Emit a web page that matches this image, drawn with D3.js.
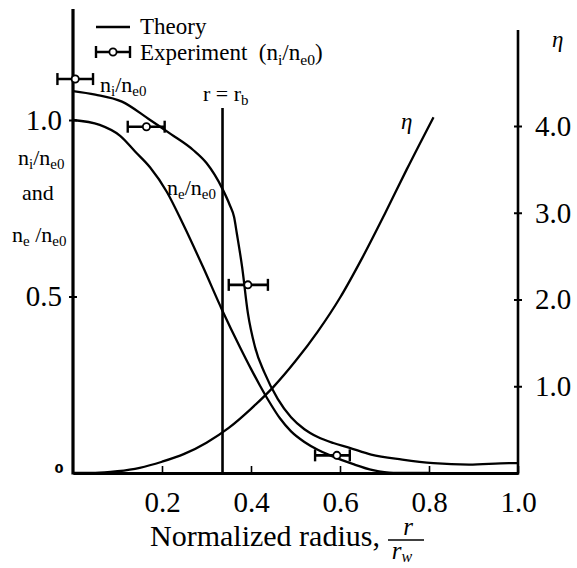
<!DOCTYPE html>
<html>
<head>
<meta charset="utf-8">
<script src="https://cdn.jsdelivr.net/npm/d3@7"></script>
<style>
  html, body { margin: 0; padding: 0; background: #fff; }
  svg { display: block; }
  text { font-family: "Liberation Serif", "Times New Roman", serif; fill: #000; }
</style>
</head>
<body>
<svg id="chart" width="577" height="568"></svg>
<script>
// ---------- data ----------
const xTicks = [0.2, 0.4, 0.6, 0.8, 1.0];
const leftTicks = [0.5, 1.0];
const rightTicks = [1, 2, 3, 4];

// n_i / n_e0 theory curve
const niX = [0, 0.05, 0.11, 0.17, 0.22, 0.27, 0.30, 0.335, 0.352, 0.362, 0.368, 0.380, 0.393, 0.409, 0.43, 0.46, 0.49, 0.52, 0.55, 0.585, 0.62, 0.67, 0.74, 0.81, 0.89, 0.98, 1.0];
const niY = [1.082, 1.072, 1.052, 1.003, 0.960, 0.915, 0.878, 0.807, 0.760, 0.725, 0.680, 0.584, 0.453, 0.357, 0.285, 0.210, 0.158, 0.124, 0.102, 0.085, 0.072, 0.052, 0.038, 0.028, 0.024, 0.028, 0.028];

// n_e / n_e0 theory curve
const neX = [0, 0.06, 0.106, 0.14, 0.173, 0.211, 0.247, 0.292, 0.335, 0.375, 0.40, 0.42, 0.44, 0.465, 0.49, 0.52, 0.55, 0.578, 0.63, 0.674, 0.72, 0.8];
const neY = [1.0, 0.986, 0.955, 0.910, 0.866, 0.796, 0.706, 0.584, 0.462, 0.357, 0.295, 0.248, 0.204, 0.155, 0.118, 0.088, 0.066, 0.050, 0.025, 0.008, 0.0, 0.0];

// eta curve (right axis)
const etaX = [0, 0.05, 0.10, 0.15, 0.20, 0.25, 0.30, 0.35, 0.40, 0.45, 0.50, 0.55, 0.60, 0.65, 0.70, 0.75, 0.81];
const etaY = [0, 0.0, 0.02, 0.06, 0.13, 0.22, 0.35, 0.52, 0.74, 0.99, 1.29, 1.63, 2.02, 2.48, 2.98, 3.50, 4.10];

// experiment (n_i/n_e0) with horizontal error bars
const expX = [0.005, 0.165, 0.393, 0.593];
const expY = [1.116, 0.981, 0.533, 0.05];
const expErrLo = [0.040, 0.042, 0.043, 0.049];
const expErrHi = [0.040, 0.041, 0.045, 0.029];

const rBeam = 0.336;

// ---------- drawing ----------
const svg = d3.select("#chart");
const SERIF = "'Liberation Serif', 'Times New Roman', serif";
const x = d3.scaleLinear().domain([0, 1]).range([73, 518]);
const yL = d3.scaleLinear().domain([0, 1]).range([473, 120]);
const yR = d3.scaleLinear().domain([0, 4]).range([473, 126]);

// bottom axis
const gB = svg.append("g").attr("transform", `translate(0,${yL(0)})`)
  .call(d3.axisBottom(x).tickValues(xTicks).tickFormat(d3.format(".1f"))
        .tickSize(-7).tickSizeOuter(0).tickPadding(18));
gB.attr("font-family", SERIF);
gB.select(".domain").attr("stroke", "#000").attr("stroke-width", 3);
gB.selectAll(".tick line").attr("stroke-width", 1.6);
gB.selectAll(".tick text").attr("font-family", SERIF).style("font-size", "29px");

// left axis
const gL = svg.append("g").attr("transform", `translate(${x(0)},0)`)
  .call(d3.axisLeft(yL).tickValues(leftTicks).tickFormat(d3.format(".1f"))
        .tickSize(4).tickSizeOuter(0).tickPadding(7));
gL.attr("font-family", SERIF);
gL.select(".domain").remove();
gL.selectAll(".tick line").attr("x1", -4).attr("x2", 4).attr("stroke-width", 2);
gL.selectAll(".tick text").attr("font-family", SERIF).style("font-size", "29px");
svg.append("line").attr("x1", x(0)).attr("x2", x(0)).attr("y1", 9).attr("y2", yL(0) + 1.5)
  .attr("stroke", "#000").attr("stroke-width", 3.2);

// right axis
const gR = svg.append("g").attr("transform", `translate(${x(1)},0)`)
  .call(d3.axisRight(yR).tickValues(rightTicks).tickFormat(d3.format(".1f"))
        .tickSize(4).tickSizeOuter(0).tickPadding(13));
gR.attr("font-family", SERIF);
gR.select(".domain").remove();
gR.selectAll(".tick line").attr("x1", -4).attr("x2", 4).attr("stroke-width", 2);
gR.selectAll(".tick text").attr("font-family", SERIF).style("font-size", "29px");
svg.append("line").attr("x1", x(1)).attr("x2", x(1)).attr("y1", 30).attr("y2", yL(0) + 1.5)
  .attr("stroke", "#000").attr("stroke-width", 2.6);

// small "0" at origin
svg.append("text").attr("x", 59).attr("y", 473).attr("text-anchor", "middle")
  .style("font-family", "DejaVu Sans, sans-serif").style("font-size", "13px").style("font-weight", "bold").text("0");

// curves
const lineL = d3.line().x(d => x(d[0])).y(d => yL(d[1])).curve(d3.curveMonotoneX);
const lineR = d3.line().x(d => x(d[0])).y(d => yR(d[1])).curve(d3.curveMonotoneX);
svg.append("path").datum(niX.map((v, i) => [v, niY[i]])).attr("d", lineL)
  .attr("fill", "none").attr("stroke", "#000").attr("stroke-width", 2.3);
svg.append("path").datum(neX.map((v, i) => [v, neY[i]])).attr("d", lineL)
  .attr("fill", "none").attr("stroke", "#000").attr("stroke-width", 2.3);
svg.append("path").datum(etaX.map((v, i) => [v, etaY[i]])).attr("d", lineR)
  .attr("fill", "none").attr("stroke", "#000").attr("stroke-width", 2.3);

// r = r_b line
svg.append("line").attr("x1", x(rBeam)).attr("x2", x(rBeam)).attr("y1", 108).attr("y2", yL(0))
  .attr("stroke", "#000").attr("stroke-width", 2.6);

// experiment error bars
function errBar(g, cx, cy, xl, xr) {
  g.append("line").attr("x1", xl).attr("x2", xr).attr("y1", cy).attr("y2", cy).attr("stroke", "#000").attr("stroke-width", 2.6);
  g.append("line").attr("x1", xl).attr("x2", xl).attr("y1", cy - 6).attr("y2", cy + 6).attr("stroke", "#000").attr("stroke-width", 2.4);
  g.append("line").attr("x1", xr).attr("x2", xr).attr("y1", cy - 6).attr("y2", cy + 6).attr("stroke", "#000").attr("stroke-width", 2.4);
  g.append("circle").attr("cx", cx).attr("cy", cy).attr("r", 3.6).attr("fill", "#fff").attr("stroke", "#000").attr("stroke-width", 1.8);
}
const gE = svg.append("g");
expX.forEach((v, i) => errBar(gE, x(v), yL(expY[i]), x(v - expErrLo[i]), x(v + expErrHi[i])));

// legend
svg.append("line").attr("x1", 96).attr("x2", 130).attr("y1", 27).attr("y2", 27).attr("stroke", "#000").attr("stroke-width", 2.6);
svg.append("text").attr("x", 140).attr("y", 34).style("font-size", "23px").text("Theory");
errBar(svg.append("g"), 113, 52, 96, 130);

function fracLabel(x0, y0, size, parts, anchor) {
  const t = svg.append("text").attr("x", x0).attr("y", y0).style("font-size", size + "px");
  if (anchor) t.attr("text-anchor", anchor);
  parts.forEach(p => {
    const ts = t.append("tspan").text(p.t);
    if (p.sub) ts.attr("dy", size * 0.2).style("font-size", (size * 0.68) + "px");
    else if (p.after) ts.attr("dy", -size * 0.2);
  });
  return t;
}
fracLabel(140, 60, 23, [{t: "Experiment\u00a0 (n"}, {t: "i", sub: true}, {t: "/n", after: true}, {t: "e0", sub: true}, {t: ")", after: true}]);

// in-plot labels
fracLabel(100, 92, 22, [{t: "n"}, {t: "i", sub: true}, {t: "/n", after: true}, {t: "e0", sub: true}]);
fracLabel(167, 195, 22, [{t: "n"}, {t: "e", sub: true}, {t: "/n", after: true}, {t: "e0", sub: true}]);
fracLabel(203, 101, 22, [{t: "r = r"}, {t: "b", sub: true}]);
svg.append("text").attr("x", 401).attr("y", 129).style("font-size", "23px").style("font-style", "italic").text("η");
svg.append("text").attr("x", 552).attr("y", 47).style("font-size", "23px").style("font-style", "italic").text("η");

// left axis title
fracLabel(18, 165, 22, [{t: "n"}, {t: "i", sub: true}, {t: "/n", after: true}, {t: "e0", sub: true}]);
svg.append("text").attr("x", 22).attr("y", 200).style("font-size", "22px").text("and");
fracLabel(12, 242, 22, [{t: "n"}, {t: "e", sub: true}, {t: "\u00a0/n", after: true}, {t: "e0", sub: true}]);

// bottom axis title
svg.append("text").attr("x", 150).attr("y", 546).style("font-size", "30px").text("Normalized radius,");
svg.append("text").attr("x", 408).attr("y", 535).attr("text-anchor", "middle").style("font-size", "25px").style("font-style", "italic").text("r");
svg.append("line").attr("x1", 388).attr("x2", 424).attr("y1", 540).attr("y2", 540).attr("stroke", "#000").attr("stroke-width", 1.6);
const tw = svg.append("text").attr("x", 402).attr("y", 559).attr("text-anchor", "middle").style("font-size", "25px").style("font-style", "italic");
tw.append("tspan").text("r");
tw.append("tspan").attr("dy", 3).style("font-size", "16px").text("w");
</script>
</body>
</html>
